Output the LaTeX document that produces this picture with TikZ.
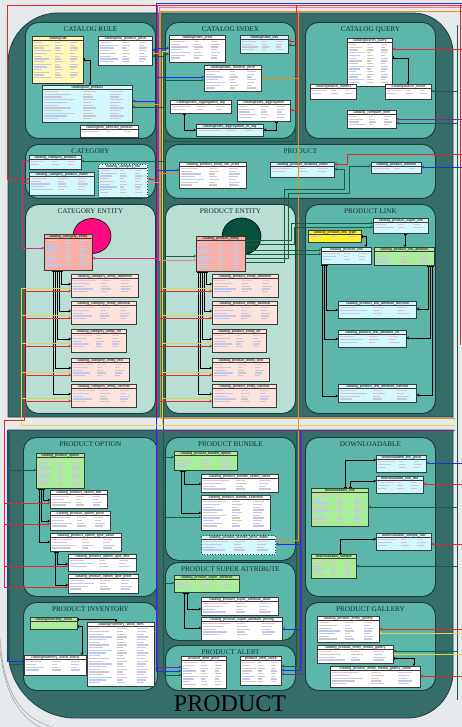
\documentclass[tikz,border=0pt]{standalone}
\usepackage{fontspec}
\setmainfont{Liberation Serif}
\newfontfamily\tblfont{Liberation Sans}
\usetikzlibrary{arrows.meta,shapes.geometric}

% palette
\definecolor{pagebg}{HTML}{E7EAED}
\definecolor{shell}{HTML}{376D68}
\definecolor{shelledge}{HTML}{1F403C}
\definecolor{grp}{HTML}{5DB6AA}
\definecolor{grpent}{HTML}{B9DED4}
\definecolor{grpedge}{HTML}{1C3A36}
\definecolor{titlecol}{HTML}{16302D}
\definecolor{tbledge}{HTML}{3A3A3A}
\definecolor{tshadow}{HTML}{4A5E5A}
\definecolor{tWhite}{HTML}{FFFFFF}
\definecolor{tCyan}{HTML}{D2F8FB}
\definecolor{tYellow}{HTML}{FFF8B8}
\definecolor{tGold}{HTML}{FFEE2A}
\definecolor{tGreen}{HTML}{A9EE98}
\definecolor{tSalmon}{HTML}{F7AFA6}
\definecolor{tPink}{HTML}{FDE3DE}
\definecolor{sLav}{HTML}{C8C4F0}
\definecolor{sGrey}{HTML}{C9C9C9}
\definecolor{sBlue}{HTML}{AECDF2}
\definecolor{sRose}{HTML}{F4BFC6}
\definecolor{sTan}{HTML}{D6C9B4}
\definecolor{cBlue}{HTML}{1E2FE6}
\definecolor{cRed}{HTML}{E8242E}
\definecolor{cPink}{HTML}{EE7C8C}
\definecolor{cOrange}{HTML}{F28C1E}
\definecolor{cYellow}{HTML}{E6D24A}
\definecolor{cGreen}{HTML}{17603F}
\definecolor{cPurple}{HTML}{7E2A92}
\definecolor{cMagenta}{HTML}{E8287E}
\definecolor{blobA}{HTML}{FF0A80}
\definecolor{blobB}{HTML}{08503C}

% placeholder column rows inside a table body
\newcommand{\dbrows}[4]{%
  \pgfmathtruncatemacro{\nrows}{floor((#4-7)/2.7)}%
  \ifnum\nrows>0
  \foreach \rw in {1,...,\nrows}{%
    \pgfmathsetmacro{\yy}{#2+3.4+2.7*\rw}%
    \pgfmathtruncatemacro{\ka}{mod(\rw*7+#1,5)}%
    \pgfmathtruncatemacro{\kb}{mod(\rw*3+#2,4)}%
    \pgfmathsetmacro{\wa}{#3*(0.16+0.045*mod(\rw*3+#1,5))}%
    \pgfmathsetmacro{\wb}{#3*(0.09+0.03*mod(\rw+#2,3))}%
    \pgfmathsetmacro{\wcc}{#3*(0.10+0.03*mod(\rw*2+#1,3))}%
    \ifnum\rw=1 \def\stA{sRose}\def\stB{sRose}\def\stC{sRose}\else
      \ifcase\ka \def\stA{sLav}\or\def\stA{sGrey}\or\def\stA{sBlue}\or\def\stA{sGrey}\or\def\stA{sLav}\fi
      \ifcase\kb \def\stB{sGrey}\or\def\stB{sLav}\or\def\stB{sGrey}\or\def\stB{sTan}\fi
      \ifodd\rw \def\stC{sGrey}\else\def\stC{sLav}\fi
    \fi
    \fill[\stA] ({#1+2},\yy) rectangle ++(\wa,1.3);
    \fill[\stB] ({#1+0.45*#3},\yy) rectangle ++(\wb,1.3);
    \fill[\stC] ({#1+0.75*#3},\yy) rectangle ++(\wcc,1.3);
  }%
  \fi
}

% \dbtab[extra]{name}{x1}{y1}{x2}{y2}{fill}{title}
\newcommand{\dbtab}[8][]{%
  \pgfmathsetmacro{\tabw}{#5-#3}%
  \pgfmathsetmacro{\tabh}{#6-#4}%
  \fill[tshadow] ({#3+1.2},{#4+1.2}) rectangle ({#5+1.2},{#6+1.2});
  \node[dbt, fill=#7, minimum width=\tabw pt, minimum height=\tabh pt, anchor=north west, #1] (#2) at (#3,#4) {};
  \dbrows{#3}{#4}{\tabw}{\tabh}%
  \draw[dbrule] (#3,{#4+4.6}) -- (#5,{#4+4.6});
  \node[dbtitle, anchor=north] at ([yshift=-0.4pt]#2.north) {#8};
}

% \grpbox[fill]{name}{x1}{y1}{x2}{y2}{title}
\newcommand{\grpbox}[7][grp]{%
  \pgfmathsetmacro{\gw}{#5-#3}%
  \pgfmathsetmacro{\gh}{#6-#4}%
  \node[grpnode, fill=#1, minimum width=\gw pt, minimum height=\gh pt, anchor=north west] (#2) at (#3,#4) {};
  \node[grptitle, anchor=north] (#2-t) at ([yshift=-4.5pt]#2.north) {#7};
}

\begin{document}
\begin{tikzpicture}[x=1pt, y=-1pt,
  grpnode/.style={draw=grpedge, line width=0.9pt, rounded corners=13pt, inner sep=0pt},
  grptitle/.style={font=\fontsize{7.2}{8}\selectfont, text=titlecol, inner sep=0pt},
  dbt/.style={draw=tbledge, line width=0.7pt, inner sep=0pt},
  dbtitle/.style={font=\tblfont\fontsize{3.6}{4}\selectfont, inner sep=0.3pt, text=black},
  dbrule/.style={draw=tbledge, line width=0.5pt},
  link/.style={line width=0.8pt},
  fk/.style={link, {Stealth[length=2.3pt,width=3pt]}-},
  rel/.style={link, black, {Bar[width=3pt]}-{Stealth[length=2.3pt,width=3pt]}},
  outline/.style={draw=gray!70, line width=0.6pt}
]
\useasboundingbox (0,0) rectangle (462,727);
\fill[pagebg] (0,0) rectangle (462,727);

% frame lines around the lower left corner
\draw[outline] (0,638) .. controls (3,690) and (20,718) .. (52,727);
\draw[outline] (0,650) .. controls (5,694) and (19,716) .. (40,727);

% upper and lower shells
\fill[shell, draw=shelledge, line width=0.8pt] (8,417) -- (8,63)
  .. controls (8,35.4) and (30.4,13) .. (58,13) -- (413,13)
  .. controls (435.1,13) and (453,30.9) .. (453,53) -- (453,417) -- cycle;
\fill[shell, draw=shelledge, line width=0.8pt] (8,430) -- (453,430) -- (453,672)
  .. controls (453,697) and (433,718) .. (408,718) -- (75,718)
  .. controls (38,718) and (8,687) .. (8,650) -- cycle;

% groups
\grpbox{gRule}{25}{22}{155}{138}{CATALOG RULE}
\grpbox{gIndex}{165}{22}{295}{138}{CATALOG INDEX}
\grpbox{gQuery}{305}{22}{435}{138}{CATALOG QUERY}
\grpbox{gCat}{25}{144}{155}{198}{CATEGORY}
\grpbox{gProd}{165}{144}{435}{198}{PRODUCT}
\grpbox[grpent]{gCatEnt}{25}{204}{155}{413}{CATEGORY ENTITY}
\grpbox[grpent]{gProdEnt}{165}{204}{295}{413}{PRODUCT ENTITY}
\grpbox{gLink}{305}{204}{435}{413}{PRODUCT LINK}
\grpbox{gOpt}{23}{437}{157}{596}{PRODUCT OPTION}
\grpbox{gBundle}{165}{437}{295}{560}{PRODUCT BUNDLE}
\grpbox{gSuper}{165}{562}{295}{640}{PRODUCT SUPER ATTRIBUTE}
\grpbox{gDown}{305}{437}{435}{596}{DOWNLOADABLE}
\grpbox{gInv}{23}{602}{157}{690}{PRODUCT INVENTORY}
\grpbox{gAlert}{165}{645}{295}{690}{PRODUCT ALERT}
\grpbox{gGal}{305}{602}{435}{690}{PRODUCT GALLERY}

\node[font=\fontsize{24}{24}\selectfont, inner sep=0pt] (shellTitle) at (230,704) {PRODUCT};

% entity markers
\node[ellipse, draw=black, line width=0.6pt, fill=blobA, minimum width=38pt, minimum height=35pt] (catBlob) at (92,236) {};
\node[ellipse, draw=black, line width=0.6pt, fill=blobB, minimum width=39pt, minimum height=37pt] (prodBlob) at (241.5,236.5) {};

% tables
\dbtab{cr}{32}{36}{83}{83}{tYellow}{catalogrule}
\dbtab{crpp}{98}{36}{152}{65}{tWhite}{catalogrule\_product\_price}
\dbtab{crp}{42}{85}{132}{122}{tCyan}{catalogrule\_product}
\dbtab{crap}{80}{125}{138}{137}{tWhite}{catalogrule\_affected\_product}
\dbtab{cip}{169}{35}{225}{62}{tWhite}{catalogindex\_price}
\dbtab{cie}{240}{35}{288}{53}{tCyan}{catalogindex\_eav}
\dbtab{cimp}{204}{65}{261}{91}{tWhite}{catalogindex\_minimal\_price}
\dbtab{ciat}{170}{100}{231}{113}{tWhite}{catalogindex\_aggregation\_tag}
\dbtab{cia}{237}{100}{290}{121}{tWhite}{catalogindex\_aggregation}
\dbtab{ciatt}{196}{124}{263}{136}{tCyan}{catalogindex\_aggregation\_to\_tag}
\dbtab{csq}{347}{38}{392}{86}{tWhite}{catalogsearch\_query}
\dbtab{csf}{310}{84}{356}{99}{tWhite}{catalogsearch\_fulltext}
\dbtab{csr}{385}{84}{431}{99}{tWhite}{catalogsearch\_result}
\dbtab{cci}{347}{110}{396}{128}{tWhite}{catalog\_compare\_item}
\dbtab{ccp}{29}{155}{81}{169}{tCyan}{catalog\_category\_product}
\dbtab{ccpi}{29}{172}{94}{195}{tCyan}{catalog\_category\_product\_index}
\dbtab[dotted,line width=1pt]{ccf}{98}{164}{147}{197}{tCyan}{catalog\_category\_flat}
\dbtab{cpetp}{179}{162}{246}{188}{tWhite}{catalog\_product\_entity\_tier\_price}
\dbtab{cpei}{270}{162}{334}{177}{tCyan}{catalog\_product\_enabled\_index}
\dbtab{cpw}{371}{162}{421}{173}{tCyan}{catalog\_product\_website}
\dbtab{cce}{44}{234}{92}{270}{tSalmon}{catalog\_category\_entity}
\dbtab{ccea}{71}{274}{138}{297}{tPink}{catalog\_category\_entity\_datetime}
\dbtab{cceb}{71}{301}{136}{324}{tPink}{catalog\_category\_entity\_decimal}
\dbtab{ccec}{71}{329}{126}{352}{tPink}{catalog\_category\_entity\_int}
\dbtab{cced}{71}{358}{129}{381}{tPink}{catalog\_category\_entity\_text}
\dbtab{ccee}{71}{384}{136}{407}{tPink}{catalog\_category\_entity\_varchar}
\dbtab{cpe}{196}{236}{245}{271}{tSalmon}{catalog\_product\_entity}
\dbtab{cpea}{212}{274}{278}{297}{tPink}{catalog\_product\_entity\_datetime}
\dbtab{cpeb}{212}{301}{277}{324}{tPink}{catalog\_product\_entity\_decimal}
\dbtab{cpec}{212}{329}{266}{352}{tPink}{catalog\_product\_entity\_int}
\dbtab{cped}{212}{358}{269}{381}{tPink}{catalog\_product\_entity\_text}
\dbtab{cpee}{212}{384}{276}{407}{tPink}{catalog\_product\_entity\_varchar}
\dbtab{cpsl}{373}{218}{428}{233}{tCyan}{catalog\_product\_super\_link}
\dbtab{cplt}{308}{230}{361}{242}{tGold}{catalog\_product\_link\_type}
\dbtab{cpl}{321}{247}{371}{264}{tCyan}{catalog\_product\_link}
\dbtab{cpla}{374}{247}{434}{265}{tGreen}{catalog\_product\_link\_attribute}
\dbtab{cplad}{338}{301}{416}{318}{tCyan}{catalog\_product\_link\_attribute\_decimal}
\dbtab{cplai}{338}{330}{406}{347}{tCyan}{catalog\_product\_link\_attribute\_int}
\dbtab{cplav}{338}{384}{416}{402}{tCyan}{catalog\_product\_link\_attribute\_varchar}
\dbtab{cpo}{36}{453}{84}{488}{tGreen}{catalog\_product\_option}
\dbtab{cpot}{50}{490}{107}{508}{tWhite}{catalog\_product\_option\_title}
\dbtab{cpop}{50}{511}{110}{530}{tWhite}{catalog\_product\_option\_price}
\dbtab{cpotv}{50}{533}{121}{551}{tWhite}{catalog\_product\_option\_type\_value}
\dbtab{cpott}{68}{554}{136}{571}{tWhite}{catalog\_product\_option\_type\_title}
\dbtab{cpotp}{68}{574}{138}{593}{tWhite}{catalog\_product\_option\_type\_price}
\dbtab{cpbo}{174}{451}{237}{470}{tGreen}{catalog\_product\_bundle\_option}
\dbtab{cpbov}{201}{474}{278}{492}{tWhite}{catalog\_product\_bundle\_option\_value}
\dbtab{cpbs}{201}{495}{270}{530}{tWhite}{catalog\_product\_bundle\_selection}
\dbtab[dotted,line width=1pt]{cpbpi}{201}{535}{275}{554}{tCyan}{catalog\_product\_bundle\_price\_index}
\dbtab{cpsa}{174}{575}{239}{592}{tGreen}{catalog\_product\_super\_attribute}
\dbtab{cpsal}{201}{597}{278}{615}{tWhite}{catalog\_product\_super\_attribute\_label}
\dbtab{cpsap}{201}{617}{282}{640}{tWhite}{catalog\_product\_super\_attribute\_pricing}
\dbtab{dlp}{376}{455}{426}{472}{tCyan}{downloadable\_link\_price}
\dbtab{dlt}{376}{476}{423}{493}{tCyan}{downloadable\_link\_title}
\dbtab{dl}{311}{488}{368}{526}{tGreen}{downloadable\_link}
\dbtab{dst}{376}{533}{431}{550}{tCyan}{downloadable\_sample\_title}
\dbtab{ds}{311}{554}{356}{578}{tGreen}{downloadable\_sample}
\dbtab{cis}{30}{617}{77}{629}{tGreen}{cataloginventory\_stock}
\dbtab{cisi}{87}{622}{154}{686}{tWhite}{cataloginventory\_stock\_item}
\dbtab{ciss}{24}{655}{86}{675}{tWhite}{cataloginventory\_stock\_status}
\dbtab{pap}{181}{656}{226}{688}{tWhite}{product\_alert\_price}
\dbtab{pas}{240}{656}{281}{685}{tWhite}{product\_alert\_stock}
\dbtab{cpeg}{317}{616}{379}{642}{tWhite}{catalog\_product\_entity\_gallery}
\dbtab{cpemg}{317}{645}{393}{663}{tWhite}{catalog\_product\_entity\_media\_gallery}
\dbtab{cpemgv}{330}{666}{420}{687}{tWhite}{catalog\_product\_entity\_media\_gallery\_value}

% routing channels
\coordinate (vB) at (156,0);   \coordinate (vR) at (157.5,0); \coordinate (vP) at (159,0);
\coordinate (vO) at (160.5,0); \coordinate (vY) at (162,0);   \coordinate (vG) at (163.5,0);
\coordinate (wG) at (295,0);   \coordinate (wR) at (296.5,0); \coordinate (wO) at (298.5,0);
\coordinate (wB) at (300,0);   \coordinate (wV) at (301.5,0);
\coordinate (eG) at (457,0);   \coordinate (eR) at (460.5,0); \coordinate (eX) at (462,0);
\coordinate (lR) at (4,0);     \coordinate (lP) at (7,0);     \coordinate (lG) at (9.5,0);
\coordinate (lY) at (21.5,0);  \coordinate (lM) at (22,0);    \coordinate (lR2) at (24,0);
\coordinate (sepEnd) at (455,0);

% channel trunks
\draw[link, cBlue]   (vB |- 0,3) -- (eX |- 0,3);
\draw[link, cRed]    (lP |- 0,5) -- (eX |- 0,5);
\draw[link, cPink]   (vP |- 0,7.5) -- (eX |- 0,7.5);
\draw[link, cOrange] (vO |- 0,11) -- (eX |- 0,11);
\draw[link, cBlue]   (vB |- 0,3) -- (vB |- 0,671);
\draw[link, cRed]    (vR |- 0,5) -- (vR |- 0,418);
\draw[link, cPink]   (vP |- 0,7.5) -- (vP |- 0,260);
\draw[link, cOrange] (vO |- 0,11) -- (vO |- 0,418);
\draw[link, cYellow] (vY |- 0,51) -- (vY |- 0,425);
\draw[link, cGreen]  (vG |- 0,54) -- (vG |- 0,675);
\draw[link, cPurple] (vR |- 0,430) -- (vR |- 0,667);
\draw[link, cGreen]  (wG |- 0,45) -- (wG |- 0,141);
\draw[link, cRed]    (wR |- 0,5) -- (wR |- 0,110);
\draw[link, cOrange] (wO |- 0,11) -- (wO |- 0,540);
\draw[link, cBlue]   (wB |- 0,430) -- (wB |- 0,670);
\draw[link, cPurple] (wV |- 0,430) -- (wV |- 0,674);
\draw[link, cGreen]  (wR |- 0,432) -- (wR |- 0,666);
\draw[link, cGreen]  (eG |- 0,25) -- (eG |- 0,700);
\draw[link, cRed]    (eR |- 0,5) -- (eR |- 0,345);
\draw[link, cYellow] (lY |- 0,288) -- (lY |- 0,425) -- (sepEnd |- 0,425);
\draw[link, cRed]    (lR2 |- 0,291) -- (lR2 |- 0,420) -- (lR |- 0,420) -- (lR |- 0,587);
\draw[link, cOrange] (vO |- 0,418) -- (sepEnd |- 0,418);
\draw[link, cPurple] (vR |- 0,430) -- (sepEnd |- 0,430);
\draw[link, cBlue]   (lP |- 0,430) -- (lP |- 0,661);
\draw[link, cGreen]  (lG |- 0,432) -- (lG |- 0,664);

% catalog rule
\draw[rel] (cr.east |- 0,60) -| (crp.north -| 90,0);
\draw[fk, cBlue]   (crpp.east |- 0,50) -- (vB |- 0,50);
\draw[fk, cOrange] (crpp.east |- 0,53) -- (vO |- 0,53);
\draw[fk, cGreen]  (crpp.east |- 0,56) -- (vG |- 0,56);
\draw[fk, cBlue]   (crp.east |- 0,101) -- (vB |- 0,101);
\draw[fk, cOrange] (crp.east |- 0,104) -- (vO |- 0,104);
\draw[fk, cGreen]  (crp.east |- 0,107) -- (vG |- 0,107);

% catalog index
\draw[fk, cBlue]   (cip.west |- 0,48) -- (vB |- 0,48);
\draw[fk, cYellow] (cip.west |- 0,51) -- (vY |- 0,51);
\draw[fk, cGreen]  (cip.west |- 0,54) -- (vG |- 0,54);
\draw[fk, cBlue]   (cimp.west |- 0,77) -- (vB |- 0,77);
\draw[fk, cGreen]  (cimp.west |- 0,80) -- (vG |- 0,80);
\draw[fk, cOrange] (cimp.east |- 0,78) -- (wO |- 0,78);
\draw[fk, cRed]    (cie.east |- 0,41) -- (wR |- 0,41);
\draw[fk, cGreen]  (cie.east |- 0,45) -- (wG |- 0,45);
\draw[fk, cRed]    (cia.east |- 0,110) -- (wR |- 0,110);
\draw[rel] (ciat.south -| 184,0) |- (ciatt.west |- 0,130);
\draw[rel] (cia.south -| 276,0) |- (ciatt.east |- 0,130);
\draw[link, cGreen, -{Stealth[length=2.3pt,width=3pt]}] (wG |- 0,141) -- (vG |- 0,141);

% catalog query
\draw[fk, cRed]    (csq.east |- 0,49) -- (eX |- 0,49);
\draw[rel] (csq.east |- 0,58) -| (csr.north -| 408,0);
\draw[fk, cGreen]  (csr.east |- 0,91) -- (eG |- 0,91);
\draw[fk, cPurple] (cci.east |- 0,119) -- (eX |- 0,119);
\draw[fk, cGreen]  (cci.east |- 0,123) -- (eG |- 0,123);

% category
\draw[fk, cRed] (ccpi.west |- 0,179) -- (lP |- 0,179) -- (lP |- 0,5);
\draw[link, cMagenta, {Stealth[length=2.3pt,width=3pt]}-{Stealth[length=2.3pt,width=3pt]}]
  (ccp.west |- 0,161) -- (lM |- 0,161) -- (lM |- 0,248) -- (cce.west |- 0,248);
\draw[fk, cMagenta] (ccpi.west |- 0,183) -- (lM |- 0,183);
\draw[fk, cGreen]   (ccp.east |- 0,161) -- (vG |- 0,161);
\draw[fk, cRed]     (ccf.east |- 0,179) -- (vR |- 0,179);
\draw[fk, cPink]    (ccf.east |- 0,182) -- (vP |- 0,182);

% product
\draw[fk, cBlue]   (cpetp.west |- 0,170) -- (vB |- 0,170);
\draw[fk, cOrange] (cpetp.west |- 0,173) -- (vO |- 0,173);
\draw[fk, cRed]    (cpei.east |- 0,164) -- (347,164) -- (347,154) -- (eX |- 0,154);
\draw[fk, cBlue]   (cpw.east |- 0,167) -- (eX |- 0,167);
\draw[fk, cGreen]  (cpw.west |- 0,166) -- (349,166) -- (349,193) -- (288,193) -- (288,258) -- (cpe.east |- 0,258);
\draw[fk, cGreen]  (cpei.east |- 0,169) -- (344,169) -- (344,189) -- (284,189) -- (284,262) -- (cpe.east |- 0,262);

% category entity
\draw[fk, cMagenta] (cce.east |- 0,258) -- (vP |- 0,258);
\draw[rel] (cce.south -| 61,0) |- (ccea.west |- 0,284);
\draw[rel] (cce.south -| 59,0) |- (cceb.west |- 0,311);
\draw[rel] (cce.south -| 57,0) |- (ccec.west |- 0,339);
\draw[rel] (cce.south -| 55,0) |- (cced.west |- 0,368);
\draw[rel] (cce.south -| 53,0) |- (ccee.west |- 0,394);
\foreach \tb/\ty in {ccea/274, cceb/301, ccec/329, cced/358, ccee/384}{
  \draw[fk, cYellow] (\tb.west |- 0,\ty+14) -- (lY |- 0,\ty+14);
  \draw[fk, cRed]    (\tb.west |- 0,\ty+17) -- (lR2 |- 0,\ty+17);
}

% product entity
\draw[fk, cGreen] (cpe.west |- 0,256) -- (vG |- 0,256);
\draw[fk, cPink]  (cpe.west |- 0,260) -- (vP |- 0,260);
\draw[rel] (cpe.south -| 206,0) |- (cpea.west |- 0,284);
\draw[rel] (cpe.south -| 204,0) |- (cpeb.west |- 0,311);
\draw[rel] (cpe.south -| 202,0) |- (cpec.west |- 0,339);
\draw[rel] (cpe.south -| 200,0) |- (cped.west |- 0,368);
\draw[rel] (cpe.south -| 198,0) |- (cpee.west |- 0,394);
\foreach \tb/\ty in {cpea/274, cpeb/301, cpec/329, cped/358, cpee/384}{
  \draw[fk, cYellow] (\tb.west |- 0,\ty+14) -- (vY |- 0,\ty+14);
  \draw[fk, cRed]    (\tb.west |- 0,\ty+17) -- (vR |- 0,\ty+17);
}
\draw[fk, cGreen] (cpsl.west |- 0,223) -- (291,223) -- (291,240) -- (cpe.east |- 0,240);
\draw[fk, cGreen] (cpsl.west |- 0,227) -- (294,227) -- (294,244) -- (cpe.east |- 0,244);
\draw[fk, cGreen] (cpl.west |- 0,250) -- (cpe.east |- 0,250);
\draw[fk, cGreen] (cpl.west |- 0,254) -- (cpe.east |- 0,254);

% product link
\draw[rel] (cplt.east |- 0,236) -| (cpl.north -| 366,0);
\draw[rel] (cpsl.south -| 405,0) -- (cpla.north -| 405,0);
\draw[rel] (cpl.south -| 326,0) |- (cplad.west |- 0,310);
\draw[rel] (cpl.south -| 324,0) |- (cplai.west |- 0,339);
\draw[rel] (cpl.south -| 322,0) |- (cplav.west |- 0,396);
\draw[rel] (cpla.south -| 428,0) |- (cplad.east |- 0,309);
\draw[rel] (cpla.south -| 430,0) |- (cplai.east |- 0,338);
\draw[rel] (cpla.south -| 432,0) |- (cplav.east |- 0,395);

% product option
\draw[fk, cGreen] (cpo.west |- 0,470) -- (lG |- 0,470);
\draw[rel] (cpo.south -| 43,0) |- (cpot.west |- 0,500);
\draw[rel] (cpo.south -| 41,0) |- (cpop.west |- 0,521);
\draw[rel] (cpo.south -| 39,0) |- (cpotv.west |- 0,542);
\draw[rel] (cpotv.south -| 57,0) |- (cpott.west |- 0,564);
\draw[rel] (cpotv.south -| 55,0) |- (cpotp.west |- 0,585);
\draw[fk, cRed] (cpot.west |- 0,503) -- (lR |- 0,503);
\draw[fk, cRed] (cpop.west |- 0,524) -- (lR |- 0,524);
\draw[fk, cRed] (cpott.west |- 0,566) -- (lR |- 0,566);
\draw[fk, cRed] (cpotp.west |- 0,587) -- (lR |- 0,587);

% product bundle and super attribute
\draw[fk, cGreen] (cpbo.west |- 0,457) -- (vG |- 0,457);
\draw[rel] (cpbo.south -| 184,0) |- (cpbov.west |- 0,484);
\draw[rel] (cpbo.south -| 181,0) |- (cpbs.west |- 0,513);
\draw[fk, cGreen]  (cpbs.west |- 0,517) -- (vG |- 0,517);
\draw[fk, cOrange] (cpbpi.east |- 0,540) -- (wO |- 0,540);
\draw[fk, cBlue]   (cpbpi.east |- 0,544) -- (wB |- 0,544);
\draw[fk, cGreen]  (cpsa.west |- 0,583) -- (vG |- 0,583);
\draw[rel] (cpsa.south -| 187,0) |- (cpsal.west |- 0,609);
\draw[rel] (cpsa.south -| 184,0) |- (cpsap.west |- 0,628);
\draw[fk, cBlue]   (cpsap.east |- 0,629) -- (wB |- 0,629);

% downloadable
\draw[rel] (dl.north -| 345,0) |- (dlp.west |- 0,460);
\draw[rel] (dl.north -| 350,0) |- (dlt.west |- 0,481);
\draw[rel] (ds.north -| 340,0) |- (dst.west |- 0,539);
\draw[fk, cBlue]  (dlp.east |- 0,463) -- (eX |- 0,463);
\draw[fk, cRed]   (dlt.east |- 0,484) -- (eX |- 0,484);
\draw[fk, cGreen] (dl.east |- 0,507) -- (eG |- 0,507);
\draw[fk, cRed]   (dst.east |- 0,544) -- (eX |- 0,544);
\draw[fk, cGreen] (ds.east |- 0,566) -- (eG |- 0,566);

% inventory
\draw[rel] (cis.east |- 0,619) -| (cisi.north -| 116,0);
\draw[rel] (cis.east |- 0,626) -| (ciss.north -| 82,0);
\draw[fk, cBlue]  (ciss.west |- 0,661) -- (lP |- 0,661);
\draw[fk, cGreen] (ciss.west |- 0,664) -- (lG |- 0,664);

% alerts
\draw[fk, cPurple] (pap.west |- 0,667) -- (vR |- 0,667);
\draw[fk, cBlue]   (pap.west |- 0,671) -- (vB |- 0,671);
\draw[fk, cGreen]  (pap.west |- 0,675) -- (vG |- 0,675);
\draw[fk, cGreen]  (pas.east |- 0,666) -- (wR |- 0,666);
\draw[fk, cBlue]   (pas.east |- 0,670) -- (wB |- 0,670);
\draw[fk, cPurple] (pas.east |- 0,674) -- (wV |- 0,674);

% gallery
\draw[fk, cRed]    (cpeg.east |- 0,629) -- (eX |- 0,629);
\draw[fk, cYellow] (cpeg.east |- 0,633) -- (eX |- 0,633);
\draw[fk, cGreen]  (cpemg.east |- 0,651) -- (eG |- 0,651);
\draw[fk, cYellow] (cpemg.east |- 0,654) -- (eX |- 0,654);
\draw[rel] (cpemg.east |- 0,658) -| (cpemgv.north -| 414,0);
\draw[fk, cRed]    (cpemgv.east |- 0,676) -- (eX |- 0,676);
\end{tikzpicture}
\end{document}
